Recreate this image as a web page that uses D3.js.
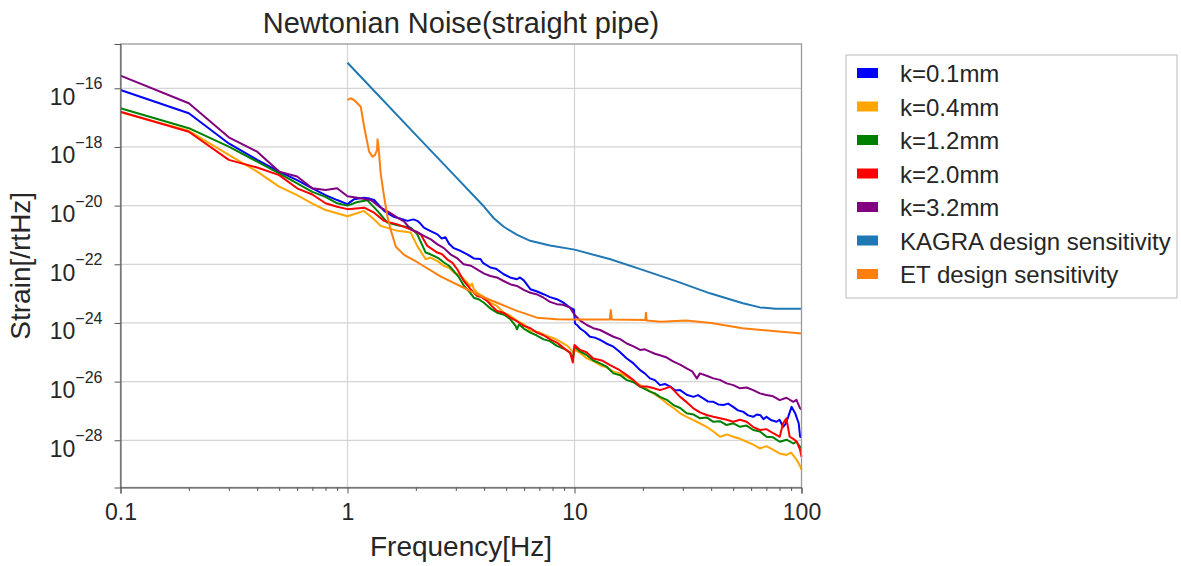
<!DOCTYPE html>
<html>
<head>
<meta charset="utf-8">
<script src="https://cdn.jsdelivr.net/npm/d3@7"></script>
<style>
  body { margin: 0; background: #fff; }
  text { font-family: "Liberation Sans", Arial, sans-serif; fill: #262626; }
</style>
</head>
<body>
<div id="chart"></div>
<script>
// values are [frequency Hz, log10 strain]
const k01 = [[0.1,-16.06],[0.2,-16.85],[0.3,-17.88],[0.4,-18.44],[0.5,-18.84],[0.6,-19.13],[0.7,-19.41],[0.8,-19.64],[0.9,-19.81],[1.0,-19.95],
  [1.07,-19.78],[1.12,-19.76],[1.18,-19.73],[1.25,-19.76],[1.31,-19.81],[1.38,-20.0],[1.45,-20.18],[1.52,-20.28],[1.6,-20.38],[1.7,-20.44],[1.84,-20.52],[1.95,-20.47],[2.03,-20.52],[2.1,-20.62],[2.17,-20.75],[2.3,-20.85],[2.49,-20.98],[2.6,-21.12],[2.7,-21.08],[2.8,-21.3],[2.94,-21.45],[3.1,-21.52],[3.37,-21.66],[3.6,-21.8],[3.85,-21.82],[3.95,-21.95],[4.26,-22.11],[4.5,-22.15],[4.88,-22.34],[5.2,-22.45],[5.58,-22.51],[5.75,-22.45],[5.98,-22.55],[6.39,-22.85],[6.8,-22.92],[7.31,-23.02],[7.8,-23.12],[8.36,-23.19],[8.9,-23.3],[9.57,-23.48],[9.95,-23.55],
  [10.05,-24.02],[10.3,-24.08],[10.59,-24.19],[11.1,-24.30],[11.7,-24.47],[12.3,-24.50],[12.97,-24.58],[13.8,-24.70],[14.84,-24.81],[15.8,-24.98],[17.0,-25.21],[18.2,-25.38],[19.46,-25.61],[20.4,-25.72],[21.5,-25.89],[22.6,-25.95],[23.8,-26.12],[25.0,-26.08],[26.4,-26.17],[27.8,-26.30],[29.2,-26.29],[31.2,-26.45],[33.4,-26.52],[35,-26.46],[36.9,-26.57],[38.8,-26.68],[40.9,-26.69],[43,-26.78],[45.3,-26.80],[47.5,-26.75],[50,-26.86],[52.5,-26.98],[55.4,-27.03],[58.2,-27.15],[61.3,-27.20],[63.5,-27.12],[66,-27.15],[68,-27.28],[70.1,-27.20],[73.8,-27.32],[77.7,-27.37],[80,-27.30],[83.0,-27.54],[85,-27.45],[87.4,-27.2],[90.4,-26.86],[93.9,-27.09],[97.2,-27.42],[98.6,-27.88],[100,-27.9]];

const k04 = [[0.1,-16.82],[0.2,-17.45],[0.3,-18.27],[0.4,-18.84],[0.5,-19.35],[0.6,-19.64],[0.7,-19.93],[0.8,-20.15],[0.9,-20.26],[1.0,-20.36],
  [1.1,-20.26],[1.18,-20.18],[1.3,-20.45],[1.4,-20.69],[1.66,-20.86],[1.9,-20.92],[2.03,-21.38],[2.21,-21.83],[2.32,-21.77],[2.5,-21.9],[2.66,-22.06],[2.8,-22.12],[2.94,-22.28],[3.1,-22.36],[3.26,-22.51],[3.48,-22.74],[3.54,-22.66],[3.6,-22.85],[3.73,-22.97],[4.0,-23.12],[4.26,-23.31],[4.55,-23.42],[4.88,-23.65],[5.2,-23.75],[5.58,-23.93],[6.0,-24.05],[6.39,-24.27],[7.0,-24.32],[7.56,-24.44],[8.1,-24.52],[8.65,-24.64],[9.3,-24.78],[9.9,-25.0],
  [10.05,-24.92],[10.7,-25.05],[11.34,-25.21],[12.1,-25.30],[12.97,-25.44],[13.9,-25.52],[14.84,-25.66],[15.9,-25.72],[17.0,-25.83],[18.2,-25.98],[19.46,-26.12],[20.8,-26.25],[22.2,-26.40],[23.8,-26.55],[25.5,-26.74],[27.3,-26.90],[29.2,-27.08],[31.2,-27.20],[33.4,-27.31],[35.7,-27.42],[38.2,-27.54],[40.9,-27.70],[43.8,-27.88],[47,-27.8],[50,-27.88],[53.6,-27.95],[57.3,-28.05],[61.3,-28.15],[65.6,-28.28],[70,-28.20],[75.1,-28.33],[80,-28.45],[85.8,-28.50],[90,-28.42],[95.3,-28.67],[99,-28.90],[100,-29.0]];

const k12 = [[0.1,-16.68],[0.2,-17.36],[0.3,-17.99],[0.4,-18.50],[0.5,-18.90],[0.6,-19.24],[0.7,-19.53],[0.8,-19.70],[0.9,-19.92],[1.0,-20.0],
  [1.106,-19.875],[1.224,-19.82],[1.355,-20.18],[1.5,-20.58],[1.66,-20.67],[1.9,-20.75],[2.03,-20.98],[2.21,-21.6],[2.32,-21.66],[2.5,-21.78],[2.66,-21.94],[2.8,-22.05],[2.94,-22.23],[3.1,-22.45],[3.26,-22.74],[3.45,-22.95],[3.6,-23.14],[3.8,-23.2],[3.99,-23.31],[4.25,-23.5],[4.56,-23.65],[4.9,-23.72],[5.22,-23.875],[5.5,-24.1],[5.58,-24.22],[5.7,-24.05],[6.0,-24.2],[6.39,-24.33],[6.8,-24.42],[7.31,-24.56],[7.8,-24.62],[8.36,-24.78],[9.0,-24.88],[9.57,-25.01],[9.83,-25.24],
  [10.0,-24.81],[10.6,-24.98],[11.34,-25.10],[12.1,-25.28],[12.97,-25.38],[13.9,-25.50],[14.84,-25.72],[15.9,-25.78],[17.0,-25.95],[18.2,-26.02],[19.46,-26.17],[20.4,-26.25],[21.5,-26.34],[22.6,-26.40],[23.8,-26.52],[25.5,-26.62],[27.3,-26.80],[29.2,-26.90],[31.2,-27.08],[33.4,-27.12],[35.7,-27.25],[38.2,-27.22],[40.9,-27.37],[43.7,-27.35],[46.8,-27.48],[50.1,-27.42],[53.6,-27.54],[57.3,-27.50],[61.3,-27.65],[65.6,-27.70],[70.1,-27.88],[75,-27.90],[80.2,-28.05],[86,-27.98],[92,-28.11],[95,-28.05],[98.6,-28.22],[100,-28.28]];

const k20 = [[0.1,-16.80],[0.2,-17.48],[0.3,-18.44],[0.4,-18.70],[0.5,-18.96],[0.6,-19.41],[0.7,-19.62],[0.8,-19.92],[0.9,-20.04],[1.0,-20.12],
  [1.184,-20.07],[1.31,-20.24],[1.449,-20.52],[1.658,-20.64],[1.898,-20.81],[2.10,-20.98],[2.247,-21.375],[2.486,-21.60],[2.6,-21.65],[2.75,-21.83],[2.9,-21.95],[3.043,-22.17],[3.255,-22.57],[3.482,-22.85],[3.726,-23.08],[3.9,-23.12],[4.122,-23.25],[4.35,-23.45],[4.561,-23.59],[4.9,-23.66],[5.22,-23.82],[5.6,-23.95],[5.98,-24.10],[6.4,-24.18],[6.84,-24.33],[7.3,-24.42],[7.82,-24.56],[8.4,-24.68],[8.95,-24.85],[9.57,-25.02],[9.83,-25.35],
  [10.0,-24.75],[10.59,-24.92],[11.3,-25.0],[12.1,-25.21],[13.2,-25.28],[14.35,-25.44],[15.6,-25.58],[17.0,-25.78],[18.2,-25.95],[19.46,-26.17],[20.8,-26.17],[22.2,-26.22],[23.8,-26.29],[25,-26.24],[26.4,-26.17],[27.8,-26.35],[29.2,-26.52],[31.2,-26.70],[33.4,-26.91],[35.7,-27.05],[38.2,-27.14],[40.9,-27.2],[43.8,-27.25],[46.8,-27.30],[50.0,-27.37],[53.6,-27.30],[57.3,-27.37],[61.3,-27.55],[65.6,-27.65],[70,-27.62],[75.1,-27.76],[80.2,-27.88],[83.0,-27.42],[85.8,-27.25],[88.7,-27.88],[92,-27.95],[95.3,-28.05],[98.6,-28.33],[100,-28.56]];

const k32 = [[0.1,-15.57],[0.2,-16.51],[0.3,-17.67],[0.4,-18.16],[0.5,-18.84],[0.6,-19.01],[0.7,-19.41],[0.8,-19.47],[0.9,-19.41],[1.0,-19.68],
  [1.106,-19.73],[1.266,-19.81],[1.40,-20.07],[1.52,-20.22],[1.66,-20.41],[1.78,-20.55],[1.90,-20.81],[2.03,-20.9],[2.17,-21.03],[2.33,-21.15],[2.49,-21.32],[2.66,-21.45],[2.84,-21.66],[3.05,-21.8],[3.25,-22.0],[3.5,-22.05],[3.72,-22.17],[4.0,-22.32],[4.26,-22.40],[4.55,-22.45],[4.87,-22.57],[5.2,-22.68],[5.58,-22.74],[6.0,-22.88],[6.39,-22.97],[6.8,-23.02],[7.31,-23.14],[7.8,-23.28],[8.36,-23.36],[8.9,-23.38],[9.56,-23.48],
  [10,-23.72],[10.6,-23.92],[11.34,-24.07],[12.1,-24.18],[12.97,-24.24],[13.9,-24.36],[14.84,-24.47],[15.9,-24.55],[17.0,-24.70],[18.2,-24.80],[19.46,-24.92],[20.4,-24.90],[21.5,-24.98],[22.6,-25.05],[23.8,-25.10],[25.5,-25.18],[27.3,-25.32],[29.2,-25.42],[31.2,-25.55],[33,-25.65],[34.6,-25.89],[35.7,-25.72],[38.2,-25.80],[40.9,-25.89],[43.7,-25.94],[46.8,-26.06],[50.1,-26.12],[53.6,-26.23],[57.3,-26.20],[61.3,-26.29],[65.6,-26.40],[70.1,-26.46],[75,-26.50],[80.2,-26.63],[85.8,-26.55],[92,-26.69],[95,-26.62],[98.6,-26.91],[100,-26.95]];

const kagra = [[1,-15.13],[2,-17.59],[3,-19.02],[4,-20.04],[4.41,-20.43],[4.88,-20.72],[5.59,-21.0],[6.38,-21.2],[7.8,-21.36],[10,-21.5],[14.4,-21.83],[20.1,-22.2],[28.4,-22.59],[39.5,-22.99],[55.2,-23.33],[65.6,-23.47],[76.9,-23.52],[100,-23.52]];

const et = [[1.0,-16.40],[1.03,-16.34],[1.069,-16.40],[1.144,-16.63],[1.184,-17.31],[1.245,-18.16],[1.288,-18.33],[1.32,-18.28],[1.35,-18.1],[1.356,-17.74],[1.37,-18.0],[1.40,-18.90],[1.45,-19.70],[1.5,-20.38],[1.551,-20.83],[1.633,-21.40],[1.775,-21.68],[2.03,-21.93],[2.58,-22.42],[3.25,-22.80],[3.85,-23.08],[4.56,-23.31],[5.58,-23.59],[6.84,-23.82],[8.36,-23.875],[10,-23.88],[14.3,-23.88],[14.45,-23.56],[14.6,-23.88],[20.5,-23.90],[20.65,-23.65],[20.8,-23.92],[24,-23.96],[31,-23.92],[40,-24.0],[55,-24.18],[100,-24.36]];

const seriesNames = ["k=0.1mm","k=0.4mm","k=1.2mm","k=2.0mm","k=3.2mm","KAGRA design sensitivity","ET design sensitivity"];
const seriesData = [k01, k04, k12, k20, k32, kagra, et];
const seriesColors = ["#0000ff","#ffa500","#008000","#ff0000","#800080","#1f77b4","#ff7f0e"];

const xMajor = [0.1, 1, 10, 100];
const xMinor = [0.2,0.3,0.4,0.5,0.6,0.7,0.8,0.9,2,3,4,5,6,7,8,9,20,30,40,50,60,70,80,90];
const yExps = [-16, -18, -20, -22, -24, -26, -28];

const width = 1181, height = 566;
const plot = {left: 120.5, right: 801.5, top: 44, bottom: 487.5};

const svg = d3.select("#chart").append("svg")
  .attr("width", width).attr("height", height)
  .style("background", "#fff");

const x = d3.scaleLog().domain([0.1, 100]).range([plot.left, plot.right]);
const y = d3.scaleLog().domain([Math.pow(10, -29.61), Math.pow(10, -14.49)]).range([plot.bottom, plot.top]);

// grid
svg.append("g").selectAll("line.h").data(yExps).enter().append("line")
  .attr("x1", plot.left).attr("x2", plot.right)
  .attr("y1", d => y(Math.pow(10, d))).attr("y2", d => y(Math.pow(10, d)))
  .attr("stroke", "#d4d4d4").attr("stroke-width", 1.2);
svg.append("g").selectAll("line.v").data([1, 10]).enter().append("line")
  .attr("y1", plot.top).attr("y2", plot.bottom)
  .attr("x1", d => x(d)).attr("x2", d => x(d))
  .attr("stroke", "#d4d4d4").attr("stroke-width", 1.2);

// curves
const line = d3.line().x(d => x(d[0])).y(d => y(Math.pow(10, d[1])));
svg.append("g").selectAll("path").data(seriesData).enter().append("path")
  .attr("d", line)
  .attr("fill", "none")
  .attr("stroke", (d, i) => seriesColors[i])
  .attr("stroke-width", 2)
  .attr("stroke-linejoin", "round");

// frame
svg.append("rect")
  .attr("x", plot.left).attr("y", plot.top)
  .attr("width", plot.right - plot.left).attr("height", plot.bottom - plot.top)
  .attr("fill", "none").attr("stroke", "#999").attr("stroke-width", 1.3);

// x axis
const xGroup = svg.append("g")
  .attr("transform", `translate(0,${plot.bottom})`)
  .call(d3.axisBottom(x).tickValues(xMajor).tickSize(6).tickPadding(10)
    .tickFormat(d => d < 1 ? "0.1" : String(d)));
xGroup.select(".domain").attr("stroke", "#555");
xGroup.selectAll(".tick line").attr("stroke", "#555");
xGroup.selectAll(".tick text").style("font-size", "23px").attr("fill", "#262626");

const xMinorGroup = svg.append("g")
  .attr("transform", `translate(0,${plot.bottom})`)
  .call(d3.axisBottom(x).tickValues(xMinor).tickSize(3.5).tickFormat(""));
xMinorGroup.select(".domain").remove();
xMinorGroup.selectAll(".tick line").attr("stroke", "#555");

// y axis
const yGroup = svg.append("g")
  .attr("transform", `translate(${plot.left},0)`)
  .call(d3.axisLeft(y).tickValues(yExps.map(e => Math.pow(10, e))).tickSize(6).tickFormat(""));
yGroup.select(".domain").attr("stroke", "#555");
yGroup.selectAll(".tick line").attr("stroke", "#555");
yGroup.selectAll(".tick").each(function(d) {
  const e = Math.round(Math.log10(d));
  const t = d3.select(this).append("text")
    .attr("x", -18).attr("y", 16)
    .attr("text-anchor", "end")
    .style("font-size", "23px");
  t.append("tspan").text("10");
  t.append("tspan").attr("dy", -15.5).style("font-size", "16px").text("\u2212" + Math.abs(e));
});

// titles
svg.append("text")
  .attr("x", (plot.left + plot.right) / 2).attr("y", 33)
  .attr("text-anchor", "middle")
  .style("font-size", "29px")
  .text("Newtonian Noise(straight pipe)");

svg.append("text")
  .attr("x", (plot.left + plot.right) / 2).attr("y", 556)
  .attr("text-anchor", "middle")
  .style("font-size", "28px")
  .text("Frequency[Hz]");

svg.append("text")
  .attr("transform", `translate(30,${(plot.top + plot.bottom) / 2}) rotate(-90)`)
  .attr("text-anchor", "middle")
  .style("font-size", "28px")
  .text("Strain[/rtHz]");

// legend
const legend = svg.append("g").attr("transform", "translate(846,55)");
legend.append("rect")
  .attr("width", 331).attr("height", 243)
  .attr("fill", "#fff").attr("stroke", "#bbb").attr("stroke-width", 1);
const items = legend.selectAll("g.item").data(seriesNames).enter().append("g")
  .attr("transform", (d, i) => `translate(0,${18 + i * 33.5})`);
items.append("rect")
  .attr("x", 11).attr("y", -5).attr("width", 21).attr("height", 10)
  .attr("fill", (d, i) => seriesColors[i]);
items.append("text")
  .attr("x", 54).attr("y", 9)
  .style("font-size", "24px")
  .text(d => d);
</script>
</body>
</html>
